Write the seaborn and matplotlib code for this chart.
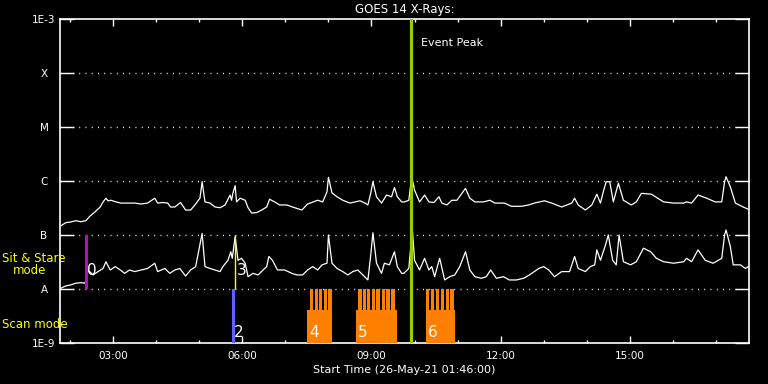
import matplotlib
matplotlib.use("Agg")
import matplotlib.pyplot as plt
import seaborn as sns
import pandas as pd
from matplotlib.ticker import FixedLocator, NullLocator

# ---------------- data ----------------
long_times = ["01:47","01:54","02:01","02:08","02:15","02:22","02:28","02:35","02:42","02:46",
              "02:50","02:53","02:57","03:04","03:11","03:21","03:30","03:39","03:48","03:58",
              "04:02","04:09","04:16","04:20","04:26","04:34","04:41","04:48","04:55","05:01",
              "05:04","05:08","05:15","05:22","05:29","05:36","05:43","05:45","05:47","05:50",
              "05:52","05:57","06:04","06:08","06:13","06:20","06:27","06:34","06:38","06:45",
              "06:52","07:02","07:10","07:23","07:31","07:45","07:52","07:58","08:00","08:05",
              "08:12","08:20","08:30","08:37","08:44","08:51","08:55","08:59","09:02","09:07",
              "09:14","09:21","09:28","09:32","09:36","09:42","09:46","09:52","09:56","10:00",
              "10:07","10:14","10:20","10:27","10:34","10:38","10:45","10:52","10:59","11:06",
              "11:11","11:17","11:24","11:36","11:45","11:52","12:05","12:15","12:29","12:39",
              "12:47","13:01","13:11","13:25","13:39","13:43","13:48","13:58","14:07","14:14",
              "14:19","14:23","14:27","14:32","14:37","14:44","14:51","15:02","15:09","15:16",
              "15:30","15:47","16:01","16:15","16:19","16:26","16:35","16:47","16:59","17:08",
              "17:12","17:14","17:20","17:27","17:38","17:45"]
long_flux = [1.47e-7,1.69e-7,1.74e-7,1.84e-7,1.76e-7,1.84e-7,2.25e-7,2.7e-7,3.3e-7,4.1e-7,
             4.8e-7,4.3e-7,4.4e-7,4.1e-7,3.9e-7,3.9e-7,3.9e-7,3.75e-7,3.9e-7,4.8e-7,
             3.9e-7,4.0e-7,3.9e-7,3.3e-7,3.3e-7,4.0e-7,2.9e-7,2.9e-7,3.75e-7,4.8e-7,
             9.7e-7,4.1e-7,3.9e-7,3.3e-7,3.2e-7,3.6e-7,5.5e-7,4.4e-7,6.0e-7,8.2e-7,
             4.1e-7,4.8e-7,4.4e-7,3.2e-7,2.55e-7,2.6e-7,2.9e-7,3.3e-7,4.6e-7,4.1e-7,
             3.6e-7,3.6e-7,3.3e-7,2.9e-7,3.75e-7,4.4e-7,4.1e-7,6.3e-7,1.17e-6,6.0e-7,
             5.1e-7,4.4e-7,3.9e-7,4.1e-7,4.3e-7,3.9e-7,3.6e-7,6.0e-7,9.7e-7,5.1e-7,
             3.9e-7,5.5e-7,5.1e-7,7.6e-7,5.1e-7,4.1e-7,4.1e-7,4.4e-7,1.2e-6,6.8e-7,
             4.1e-7,5.5e-7,4.1e-7,4.0e-7,5.1e-7,3.9e-7,3.6e-7,4.4e-7,4.4e-7,5.9e-7,
             7.3e-7,4.8e-7,4.1e-7,4.1e-7,4.4e-7,3.9e-7,3.9e-7,3.4e-7,3.4e-7,3.6e-7,
             3.9e-7,4.3e-7,3.9e-7,3.3e-7,3.9e-7,4.8e-7,3.6e-7,2.9e-7,3.6e-7,5.7e-7,
             3.9e-7,6.3e-7,9.7e-7,9.7e-7,4.1e-7,9.1e-7,4.4e-7,3.6e-7,4.1e-7,5.9e-7,
             5.7e-7,4.1e-7,3.9e-7,3.9e-7,4.1e-7,3.9e-7,5.5e-7,4.8e-7,4.1e-7,4.1e-7,
             9.7e-7,1.2e-6,7.8e-7,3.9e-7,3.3e-7,3.0e-7]

short_times = ["01:47","01:54","02:01","02:08","02:15","02:21","02:25","02:32","02:39","02:46",
               "02:50","02:56","03:03","03:10","03:16","03:23","03:30","03:39","03:48","03:58",
               "04:02","04:12","04:19","04:26","04:33","04:41","04:48","04:55","04:59","05:04",
               "05:08","05:15","05:22","05:29","05:33","05:40","05:44","05:46","05:50","05:54",
               "05:59","06:04","06:08","06:15","06:22","06:29","06:34","06:37","06:42","06:49",
               "06:59","07:09","07:16","07:24","07:31","07:38","07:45","07:51","07:58","08:00",
               "08:05","08:12","08:20","08:27","08:34","08:41","08:48","08:55","08:59","09:02",
               "09:07","09:14","09:18","09:25","09:32","09:36","09:42","09:45","09:52","09:53",
               "09:57","10:00","10:07","10:14","10:20","10:24","10:28","10:35","10:42","10:49",
               "10:56","11:03","11:11","11:17","11:24","11:33","11:40","11:46","11:54","12:04",
               "12:12","12:22","12:32","12:40","12:53","13:00","13:07","13:15","13:25","13:36",
               "13:43","13:48","13:58","14:05","14:11","14:14","14:19","14:26","14:30","14:36",
               "14:41","14:45","14:51","15:01","15:09","15:19","15:29","15:37","15:47","16:01",
               "16:15","16:19","16:26","16:35","16:45","16:56","17:08","17:12","17:14","17:20",
               "17:24","17:34","17:41","17:45"]
short_flux = [1.03e-8,1.14e-8,1.19e-8,1.28e-8,1.31e-8,1.28e-8,2.25e-8,1.82e-8,2.1e-8,2.4e-8,
              3.2e-8,2.25e-8,2.6e-8,2.25e-8,1.95e-8,2.25e-8,2.1e-8,2.25e-8,2.4e-8,3.0e-8,
              2.1e-8,2.4e-8,1.95e-8,2.25e-8,2.4e-8,1.74e-8,2.25e-8,2.6e-8,4.9e-8,1.07e-7,
              2.6e-8,2.4e-8,2.25e-8,2.1e-8,2.6e-8,3.4e-8,4.9e-8,3.7e-8,9.3e-8,3.4e-8,
              3.7e-8,3.0e-8,1.69e-8,1.95e-8,1.82e-8,2.25e-8,2.6e-8,4.0e-8,3.4e-8,2.25e-8,
              2.25e-8,1.95e-8,1.82e-8,1.82e-8,2.25e-8,2.6e-8,2.25e-8,2.8e-8,3.0e-8,1.0e-7,
              3.0e-8,2.4e-8,2.1e-8,1.82e-8,2.1e-8,2.25e-8,1.82e-8,1.47e-8,4.3e-8,1.10e-7,
              3.0e-8,1.95e-8,3.0e-8,2.8e-8,4.9e-8,2.6e-8,1.95e-8,1.95e-8,2.4e-8,3.4e-8,
              1.24e-7,3.4e-8,2.25e-8,3.7e-8,2.25e-8,2.6e-8,1.69e-8,3.7e-8,1.47e-8,1.69e-8,
              1.82e-8,2.6e-8,4.9e-8,2.25e-8,1.69e-8,1.58e-8,1.69e-8,2.25e-8,1.58e-8,1.69e-8,
              1.47e-8,1.47e-8,1.58e-8,1.82e-8,2.4e-8,2.6e-8,2.25e-8,1.69e-8,2.1e-8,2.1e-8,
              4.0e-8,2.4e-8,2.1e-8,2.6e-8,2.8e-8,5.3e-8,3.4e-8,6.5e-8,1.0e-7,3.4e-8,
              2.8e-8,1.0e-7,3.2e-8,2.8e-8,3.2e-8,5.7e-8,4.9e-8,3.7e-8,3.2e-8,3.0e-8,
              3.2e-8,3.7e-8,3.2e-8,5.3e-8,3.4e-8,3.0e-8,3.7e-8,1.0e-7,1.24e-7,6.1e-8,
              2.8e-8,2.8e-8,2.4e-8,2.6e-8]

start_time = "01:46"
end_time = "17:46"
event_peak = "09:55"

sit_stare_times = ["02:21", "05:50"]
sit_stare_labels = ["0", "3"]

scan_single_time = "05:46"
scan_single_end = "05:50"
scan_single_label = "2"

scan_block_start = ["07:30", "08:38", "10:16"]
scan_block_end = ["08:05", "09:35", "10:57"]
scan_block_labels = ["4", "5", "6"]
scan_spikes = ["07:36","07:43","07:49","07:56","08:02",
               "08:44","08:50","08:56","09:03","09:09","09:17","09:23","09:30",
               "10:18","10:25","10:32","10:39","10:46","10:52"]

ytick_vals = [1e-9, 1e-8, 1e-7, 1e-6, 1e-5, 1e-4, 1e-3]
ytick_labels = ["1E-9", "A", "B", "C", "M", "X", "1E-3"]
xtick_hours = [3, 6, 9, 12, 15]
xtick_labels = ["03:00", "06:00", "09:00", "12:00", "15:00"]

def hrs(s):
    h, m = s.split(":")
    return int(h) + int(m) / 60.0

# ---------------- style ----------------
sns.set_theme(style="dark")
plt.rcParams["font.family"] = ["DejaVu Sans"]
plt.rcParams["axes.facecolor"] = "black"
plt.rcParams["figure.facecolor"] = "black"

fig = plt.figure(figsize=(7.68, 3.84), dpi=100)
ax = fig.add_axes([60/768, 1-343/384, (749-60)/768, (343-19)/384])
ax.set_facecolor("black")

df_long = pd.DataFrame({"hour": [hrs(t) for t in long_times], "flux": long_flux})
df_short = pd.DataFrame({"hour": [hrs(t) for t in short_times], "flux": short_flux})

ax.set_yscale("log")
sns.lineplot(data=df_long, x="hour", y="flux", color="white", lw=0.9, ax=ax,
             estimator=None, sort=True)
sns.lineplot(data=df_short, x="hour", y="flux", color="white", lw=0.9, ax=ax,
             estimator=None, sort=True)

# dotted decade grid
for v in ytick_vals[1:-1]:
    ax.axhline(v, color="white", lw=1.0, linestyle=(0, (0.7, 3.8)), zorder=1)

# sit & stare markers
orange = "#ff8000"
ax.bar(hrs(sit_stare_times[0]), 1e-7 - 1e-8, bottom=1e-8, width=0.065, align="edge",
       color="#cc00cc", lw=0, zorder=3)
ax.vlines(hrs(sit_stare_times[1]), 1e-8, 1e-7, color="#ffff00", lw=1.0, zorder=3)
for t, lab in zip(sit_stare_times, sit_stare_labels):
    ax.annotate(lab, xy=(hrs(t), 1.6e-8), xytext=(1.5, 0), textcoords="offset points",
                color="white", fontsize=11, ha="left", va="bottom", zorder=5)

# scan mode
ax.bar(hrs(scan_single_time), 1e-8 - 1e-9, bottom=1e-9,
       width=hrs(scan_single_end) - hrs(scan_single_time), align="edge",
       color="#6060ff", lw=0, zorder=3)
ax.annotate(scan_single_label, xy=(hrs(scan_single_time), 1.15e-9), xytext=(1.5, 0),
            textcoords="offset points", color="white", fontsize=11, ha="left",
            va="bottom", zorder=5)
for s, e, lab in zip(scan_block_start, scan_block_end, scan_block_labels):
    ax.bar(hrs(s), 4.1e-9 - 1e-9, bottom=1e-9, width=hrs(e) - hrs(s), align="edge",
           color=orange, lw=0, zorder=3)
    ax.annotate(lab, xy=(hrs(s), 1.15e-9), xytext=(1.5, 0), textcoords="offset points",
                color="white", fontsize=11, ha="left", va="bottom", zorder=5)
for t in scan_spikes:
    ax.bar(hrs(t), 1e-8 - 1e-9, bottom=1e-9, width=0.077, align="center",
           color=orange, lw=0, zorder=3)

# event peak
ax.axvline(hrs(event_peak), color="#99cc00", lw=2.3, zorder=4)
ax.annotate("Event Peak", xy=(hrs(event_peak), 1e-3), xytext=(7.5, -17.5),
            textcoords="offset points", color="white", fontsize=8, ha="left",
            va="center")

# axes
ax.set_xlim(hrs(start_time), hrs(end_time))
ax.set_ylim(1e-9, 1e-3)
ax.yaxis.set_major_locator(FixedLocator(ytick_vals))
ax.yaxis.set_minor_locator(NullLocator())
ax.set_yticklabels(ytick_labels)
ax.xaxis.set_major_locator(FixedLocator(xtick_hours))
ax.xaxis.set_minor_locator(FixedLocator(list(range(2, 18))))
ax.set_xticklabels(xtick_labels)

ax.tick_params(axis="y", which="major", direction="in", length=10, width=1.0,
               left=True, right=True, colors="white", labelsize=7.5, pad=11.5)
for lab in ax.get_yticklabels():
    lab.set_horizontalalignment("center")
ax.tick_params(axis="x", which="major", direction="in", length=5, width=1.0,
               bottom=True, top=True, colors="white", labelsize=7.5, pad=5.5)
ax.tick_params(axis="x", which="minor", direction="in", length=2.5, width=1.0,
               bottom=True, top=True, colors="white")
for sp in ax.spines.values():
    sp.set_color("white")
    sp.set_linewidth(1.2)

ax.set_xlabel("Start Time (26-May-21 01:46:00)", color="white", fontsize=8, labelpad=3)
ax.set_ylabel("")
ax.set_title("GOES 14 X-Rays:", color="white", fontsize=8.5, pad=4)
ax.grid(False)

yellow = "#ffff00"
fig.text(2/768, 1-259/384, "Sit & Stare", color=yellow, fontsize=8.5, ha="left", va="center")
fig.text(13/768, 1-271/384, "mode", color=yellow, fontsize=8.5, ha="left", va="center")
fig.text(2/768, 1-324/384, "Scan mode", color=yellow, fontsize=8.5, ha="left", va="center")

fig.savefig("out.png", dpi=100, facecolor="black")
